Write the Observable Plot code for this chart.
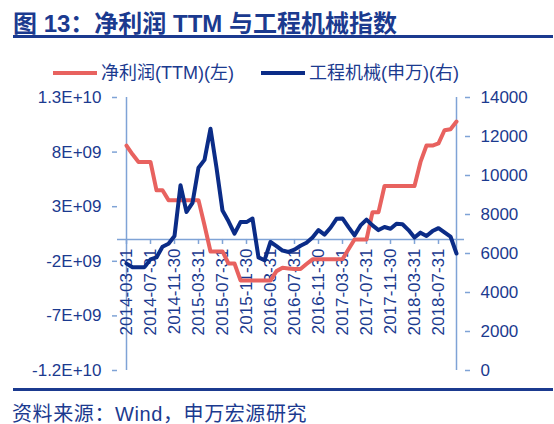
<!DOCTYPE html>
<html><head><meta charset="utf-8">
<script src="https://cdn.jsdelivr.net/npm/d3@7"></script>
<script src="https://cdn.jsdelivr.net/npm/@observablehq/plot@0.6"></script>
<style>
body{margin:0;background:#fff;}
#wrap{position:relative;width:554px;height:424px;overflow:hidden;font-family:"Liberation Sans","Noto Sans CJK SC",sans-serif;color:#1b3a8f;}
#title{position:absolute;left:13px;top:4px;font-size:24px;font-weight:bold;white-space:nowrap;font-family:"Liberation Sans","Noto Sans CJK SC",sans-serif;}
.hr{position:absolute;left:13px;width:540px;height:3px;background:#1b3a8f;}
.leg{position:absolute;top:62px;font-size:18px;white-space:nowrap;line-height:22px;}
.sw{display:inline-block;width:44px;height:4px;vertical-align:middle;margin-right:4px;position:relative;top:-1px;}
#chart{position:absolute;left:0;top:85px;}
#src{position:absolute;left:12px;top:398px;font-size:20px;letter-spacing:0.6px;white-space:nowrap;}
</style></head>
<body>
<div id="wrap">
  <div id="title">图 13：净利润 TTM 与工程机械指数</div>
  <div class="hr" style="top:35px"></div>
  <div class="leg" id="leg1" style="left:53px"></div>
  <div class="leg" id="leg2" style="left:261px"></div>
  <div id="chart"></div>
  <div class="hr" style="top:388px"></div>
  <div id="src">资料来源：Wind，申万宏源研究</div>
</div>
<script>
const dates = [
"2014-03-31","2014-04-30","2014-05-31","2014-06-30","2014-07-31","2014-08-31","2014-09-30","2014-10-31","2014-11-30","2014-12-31",
"2015-01-31","2015-02-28","2015-03-31","2015-04-30","2015-05-31","2015-06-30","2015-07-31","2015-08-31","2015-09-30","2015-10-31","2015-11-30","2015-12-31",
"2016-01-31","2016-02-29","2016-03-31","2016-04-30","2016-05-31","2016-06-30","2016-07-31","2016-08-31","2016-09-30","2016-10-31","2016-11-30","2016-12-31",
"2017-01-31","2017-02-28","2017-03-31","2017-04-30","2017-05-31","2017-06-30","2017-07-31","2017-08-31","2017-09-30","2017-10-31","2017-11-30","2017-12-31",
"2018-01-31","2018-02-28","2018-03-31","2018-04-30","2018-05-31","2018-06-30","2018-07-31","2018-08-31","2018-09-30","2018-10-31"];

const profitTTM = [
8.6e9,7.8e9,7.1e9,7.1e9,7.1e9,4.5e9,4.5e9,3.6e9,3.6e9,3.6e9,
3.6e9,3.6e9,3.6e9,1.3e9,-1.1e9,-1.1e9,-1.1e9,-2.2e9,-2.2e9,-3.75e9,-3.75e9,-3.75e9,
-3.75e9,-3.75e9,-3.75e9,-2.9e9,-2.6e9,-2.65e9,-2.7e9,-2.7e9,-2.25e9,-1.82e9,-1.82e9,-1.82e9,
-1.82e9,-1.82e9,-1.8e9,-0.9e9,0,0,0,2.5e9,2.5e9,4.9e9,4.9e9,4.9e9,
4.9e9,4.9e9,4.9e9,7.1e9,8.6e9,8.6e9,8.8e9,10.0e9,10.1e9,10.8e9];

const machineryIndex = [
5480,5300,5300,5300,5700,5800,6350,6500,6900,9500,
8130,8600,10400,10800,12400,10400,8200,7650,7020,7610,7610,7790,
5800,5650,6590,6380,6150,6080,6200,6400,6550,6820,7200,6970,
7320,7780,7800,7350,6930,7440,7740,7440,7200,7360,7270,7530,
7500,7200,6820,7070,6900,7150,7300,7080,6870,6000];

const xTickDates = ["2014-03-31","2014-07-31","2014-11-30","2015-03-31","2015-07-31","2015-11-30","2016-03-31",
"2016-07-31","2016-11-30","2017-03-31","2017-07-31","2017-11-30","2018-03-31","2018-07-31"];
const leftTicks = [-1.2e10,-7e9,-2e9,3e9,8e9,1.3e10];
const leftTickLabels = ["-1.2E+10","-7E+09","-2E+09","3E+09","8E+09","1.3E+10"];
const rightTicks = [0,2000,4000,6000,8000,10000,12000,14000];
const seriesNames = ["净利润(TTM)(左)","工程机械(申万)(右)"];

const textColor = "#1b3a8f";
const axisColor = "#7fa3d6";
const redColor = "#e8625f";
const blueColor = "#0b2c87";

const L0 = leftTicks[0], L1 = leftTicks[leftTicks.length-1];
const R0 = rightTicks[0], R1 = rightTicks[rightTicks.length-1];
const toLeft = v => L0 + (v - R0) * (L1 - L0) / (R1 - R0);
const rightTicksMapped = rightTicks.map(toLeft);

const rows = dates.map((d,i)=>({date:d, profit:profitTTM[i], index:machineryIndex[i]}));

document.getElementById("leg1").innerHTML = `<span class="sw" style="background:${redColor}"></span>${seriesNames[0]}`;
document.getElementById("leg2").innerHTML = `<span class="sw" style="background:${blueColor}"></span>${seriesNames[1]}`;

const fontFam = '"Liberation Sans","Noto Sans CJK SC",sans-serif';
const chart = Plot.plot({
  width: 554, height: 300,
  marginTop: 12, marginBottom: 15, marginLeft: 117, marginRight: 90,
  x: {type: "point", domain: dates, padding: 0, axis: null},
  y: {domain: [L0, L1]},
  style: {fontFamily: fontFam, fontSize: "17px", color: textColor, background: "transparent", overflow: "visible"},
  marks: [
    Plot.ruleY([0], {stroke: axisColor, strokeWidth: 1.5}),
    Plot.ruleX([dates[0], dates[dates.length-1]], {stroke: axisColor, strokeWidth: 1.5}),
    Plot.axisY({anchor: "left", ticks: leftTicks, tickFormat: d => leftTickLabels[leftTicks.indexOf(d)],
      tickSize: 5, tickPadding: 11, stroke: axisColor, strokeWidth: 1.5, fill: textColor, label: null, fontSize: 17}),
    Plot.axisY({anchor: "right", ticks: rightTicksMapped, tickFormat: d => String(rightTicks[rightTicksMapped.indexOf(d)]),
      tickSize: 5, tickPadding: 11, stroke: axisColor, strokeWidth: 1.5, fill: textColor, label: null, fontSize: 17}),
    Plot.ruleX(xTickDates, {x: d => d, y1: () => 0, y2: () => 0, insetBottom: -5, stroke: axisColor, strokeWidth: 1.5}),
    Plot.text(xTickDates, {x: d => d, y: () => 0, text: d => d, rotate: -90, textAnchor: "end", dy: 9, fill: textColor, fontSize: 17}),
    Plot.line(rows, {x: "date", y: "profit", stroke: redColor, strokeWidth: 4}),
    Plot.line(rows, {x: "date", y: d => toLeft(d.index), stroke: blueColor, strokeWidth: 4})
  ]
});
document.getElementById("chart").appendChild(chart);
</script>
</body></html>
